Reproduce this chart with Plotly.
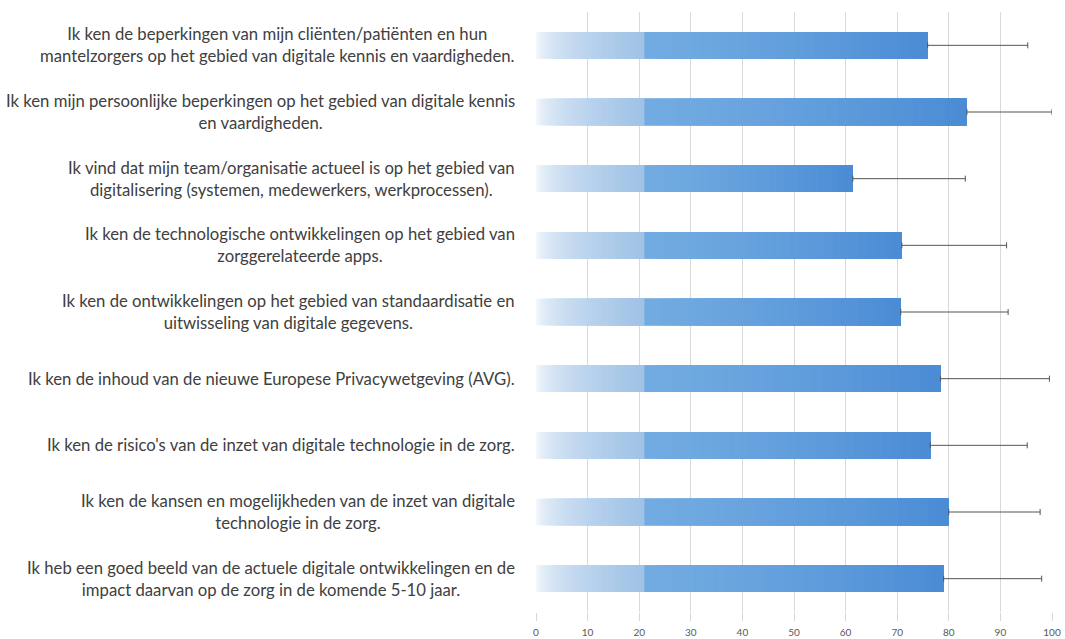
import numpy as np
import plotly.graph_objects as go

WIDTH = 1065
HEIGHT = 639
FONT = "Lato"

statements = [
    "Ik ken de beperkingen van mijn cliënten/patiënten en hun<br>mantelzorgers op het gebied van digitale kennis en vaardigheden.",
    "Ik ken mijn persoonlijke beperkingen op het gebied van digitale kennis<br>en vaardigheden.",
    "Ik vind dat mijn team/organisatie actueel is op het gebied van<br>digitalisering (systemen, medewerkers, werkprocessen).",
    "Ik ken de technologische ontwikkelingen op het gebied van<br>zorggerelateerde apps.",
    "Ik ken de ontwikkelingen op het gebied van standaardisatie en<br>uitwisseling van digitale gegevens.",
    "Ik ken de inhoud van de nieuwe Europese Privacywetgeving (AVG).",
    "Ik ken de risico's van de inzet van digitale technologie in de zorg.",
    "Ik ken de kansen en mogelijkheden van de inzet van digitale<br>technologie in de zorg.",
    "Ik heb een goed beeld van de actuele digitale ontwikkelingen en de<br>impact daarvan op de zorg in de komende 5-10 jaar.",
]
scores = [75.9, 83.5, 61.4, 70.9, 70.7, 78.4, 76.4, 80.0, 79.0]
upper = [95.3, 100.0, 83.2, 91.2, 91.5, 99.5, 95.2, 97.7, 98.0]
x_ticks = [0, 10, 20, 30, 40, 50, 60, 70, 80, 90, 100]

# category keys (the visible labels are drawn as centred annotations)
cats = [f"s{i}" for i in range(len(statements))]
scores_arr = np.array(scores)
n = len(cats)


def mix(c1, c2, t):
    a = np.array([int(c1[i:i + 2], 16) for i in (1, 3, 5)])
    b = np.array([int(c2[i:i + 2], 16) for i in (1, 3, 5)])
    r, g, bl = (a + (b - a) * t).round().astype(int)
    return f"rgb({r},{g},{bl})"


fig = go.Figure()


def add_layer(start, color):
    # each layer runs from `start` to the bar's value; later layers cover earlier ones
    start = np.broadcast_to(start, scores_arr.shape)
    fig.add_trace(go.Bar(
        y=cats, x=scores_arr - start, base=start, orientation="h",
        marker=dict(color=color, line=dict(width=0)),
        width=0.4, hoverinfo="skip", showlegend=False,
    ))


# faded left part of the bars: white into a light blue
FADE_END = 21
fade_steps = 42
for k in range(fade_steps):
    add_layer(FADE_END * k / fade_steps, mix("#ffffff", "#9fc2e6", ((k + 0.5) / fade_steps) ** 0.45))

# body, darkening towards the end
body_steps = 30
body_len = scores_arr - FADE_END
for k in range(body_steps):
    add_layer(FADE_END + body_len * k / body_steps, mix("#72abe1", "#4b8cd5", (k / (body_steps - 1)) ** 1.3))

# one-sided error bars
fig.add_trace(go.Scatter(
    y=cats, x=scores, mode="markers", marker=dict(size=1, color="rgba(0,0,0,0)"),
    error_x=dict(type="data", symmetric=False,
                 array=list(np.array(upper) - scores_arr), arrayminus=[0] * n,
                 color="#555555", thickness=1, width=3),
    hoverinfo="skip", showlegend=False,
))

for cat, text in zip(cats, statements):
    fig.add_annotation(
        x=0, xref="paper", xshift=-19, xanchor="right",
        y=cat, yref="y", yanchor="middle",
        text=text, align="center", showarrow=False,
        font=dict(family=FONT, size=16.7, color="#404040"),
    )

fig.update_layout(
    width=WIDTH,
    height=HEIGHT,
    barmode="overlay",
    plot_bgcolor="white",
    paper_bgcolor="white",
    margin=dict(l=536, r=13, t=12, b=27),
    xaxis=dict(
        range=[0, 100], tickvals=x_ticks, showgrid=True, gridcolor="#d9d9d9", gridwidth=1,
        zeroline=False, showline=False, ticks="outside", ticklen=8, tickcolor="#d9d9d9",
        ticklabelstandoff=3, automargin=False,
        tickfont=dict(family=FONT, size=10, color="#595959"),
    ),
    yaxis=dict(
        categoryorder="array", categoryarray=cats, autorange="reversed", automargin=False,
        showticklabels=False, showgrid=False, zeroline=False, showline=False,
    ),
)

fig.write_html(
    "out.html",
    config={"displayModeBar": False},
    post_script="document.body.style.margin='0';",
)
